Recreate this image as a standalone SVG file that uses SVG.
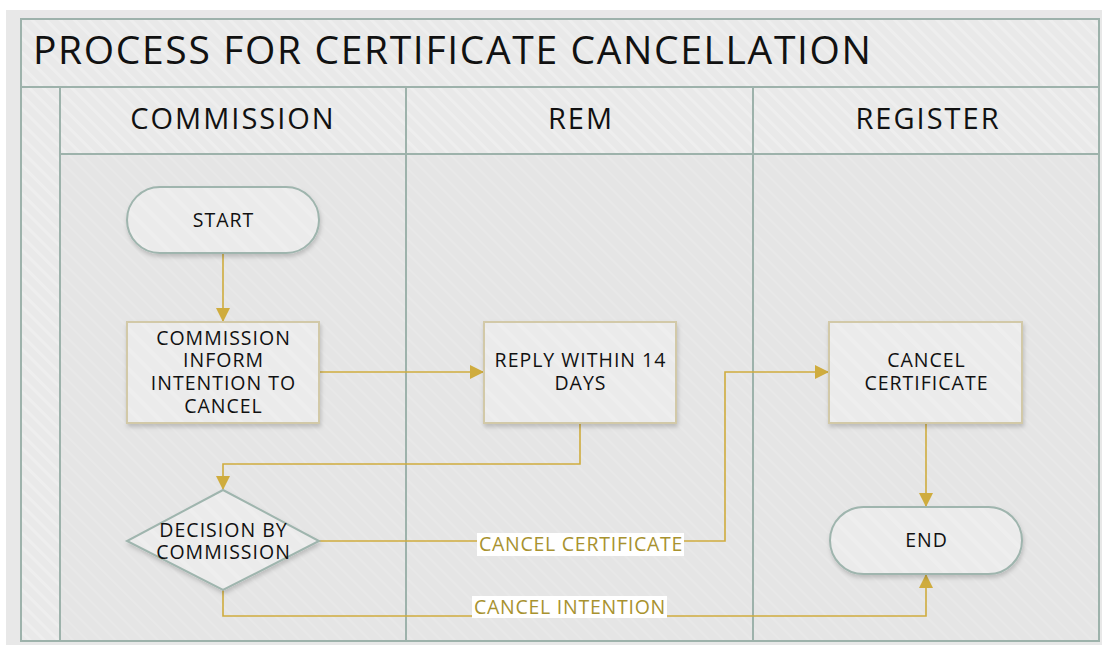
<svg xmlns="http://www.w3.org/2000/svg" width="1102" height="645" viewBox="0 0 1102 645">
<style>
text{font-family:"Open Sans","Noto Sans","Liberation Sans",sans-serif;fill:#111;}
.title{font-size:39px;letter-spacing:1.65px;}
.hdr{font-size:29px;text-anchor:middle;letter-spacing:2px;}
.nt{font-size:19.5px;text-anchor:middle;letter-spacing:1px;}
.lbl{font-size:19.5px;text-anchor:middle;fill:#a8922f;letter-spacing:0.75px;}
.frame{fill:none;stroke:#9db2ab;stroke-width:2;}
.term{fill:url(#hatchN);stroke:#9fb5ae;stroke-width:2;filter:url(#sh);}
.proc{fill:url(#hatchN);stroke:#d2c9a8;stroke-width:2;filter:url(#sh);}
.con{fill:none;stroke:#cfac3e;stroke-width:1.6;}
.lblbg{fill:#ffffff;}
</style>
<defs>
<pattern id="hatchH" width="10" height="10" patternUnits="userSpaceOnUse" patternTransform="rotate(45)">
<rect width="10" height="10" fill="#e9e9e9"/>
<rect width="10" height="3" fill="#eeeeee"/>
</pattern>
<pattern id="hatchL" width="10" height="10" patternUnits="userSpaceOnUse" patternTransform="rotate(45)">
<rect width="10" height="10" fill="#e5e5e5"/>
<rect width="10" height="2" fill="#e8e8e8"/>
</pattern>
<pattern id="hatchN" width="14" height="14" patternUnits="userSpaceOnUse" patternTransform="rotate(45)">
<rect width="14" height="14" fill="#ebebeb"/>
<rect width="14" height="4" fill="#eeeeee"/>
</pattern>
<filter id="sh" x="-10%" y="-10%" width="130%" height="140%">
<feDropShadow dx="1" dy="3" stdDeviation="2" flood-color="#000" flood-opacity="0.18"/>
</filter>
<marker id="arr" markerWidth="14" markerHeight="14" refX="13" refY="7" orient="auto" markerUnits="userSpaceOnUse">
<path d="M0,0 L14,7 L0,14 Z" fill="#cfac3e"/>
</marker>
</defs>

<rect x="0" y="0" width="1102" height="645" fill="#ffffff"/>
<rect x="6" y="10" width="1096" height="635" fill="#e8e8e8"/>

<g id="pool">
<rect x="21" y="19" width="1078" height="622" fill="url(#hatchH)"/>
<rect x="60" y="154" width="1039" height="487" fill="url(#hatchL)"/>
<rect x="21" y="19" width="1078" height="622" class="frame"/>
<line x1="21" y1="87" x2="1099" y2="87" class="frame"/>
<line x1="60" y1="87" x2="60" y2="641" class="frame"/>
<line x1="60" y1="154" x2="1099" y2="154" class="frame"/>
<line x1="406" y1="87" x2="406" y2="641" class="frame"/>
<line x1="753" y1="87" x2="753" y2="641" class="frame"/>
<text class="title" x="33" y="64">PROCESS FOR CERTIFICATE CANCELLATION</text>
</g>
<g id="lane-commission"><text class="hdr" x="233" y="129">COMMISSION</text></g>
<g id="lane-rem"><text class="hdr" x="581" y="129">REM</text></g>
<g id="lane-register"><text class="hdr" x="928" y="129">REGISTER</text></g>

<g id="connectors">
<path class="con" d="M223,253 V321" marker-end="url(#arr)"/>
<path class="con" d="M319,372 H483" marker-end="url(#arr)"/>
<path class="con" d="M580,423 V464 H223 V489" marker-end="url(#arr)"/>
<path class="con" d="M319,541 H725 V372 H828" marker-end="url(#arr)"/>
<path class="con" d="M926,423 V506" marker-end="url(#arr)"/>
<path class="con" d="M223,590 V616 H926 V575" marker-end="url(#arr)"/>
<g id="label-cancel-certificate">
<rect class="lblbg" x="477" y="533" width="207" height="23"/>
<text class="lbl" x="581" y="551">CANCEL CERTIFICATE</text>
</g>
<g id="label-cancel-intention">
<rect class="lblbg" x="472" y="596" width="195" height="22"/>
<text class="lbl" x="570" y="614">CANCEL INTENTION</text>
</g>
</g>

<g id="start">
<rect class="term" x="127" y="187" width="192" height="66" rx="33" ry="33"/>
<text class="nt" x="223.5" y="227">START</text>
</g>
<g id="inform">
<rect class="proc" x="127" y="322" width="192" height="101"/>
<text class="nt" x="223.5" y="345">COMMISSION</text>
<text class="nt" x="223.5" y="367">INFORM</text>
<text class="nt" x="223.5" y="390">INTENTION TO</text>
<text class="nt" x="223.5" y="413">CANCEL</text>
</g>
<g id="reply">
<rect class="proc" x="484" y="322" width="192" height="101"/>
<text class="nt" x="580.5" y="367">REPLY WITHIN 14</text>
<text class="nt" x="580.5" y="390">DAYS</text>
</g>
<g id="cancel-cert">
<rect class="proc" x="829" y="322" width="193" height="101"/>
<text class="nt" x="926.5" y="367">CANCEL</text>
<text class="nt" x="926.5" y="390">CERTIFICATE</text>
</g>
<g id="decision">
<path class="term" d="M223,490 L319,541 L223,590 L127,541 Z"/>
<text class="nt" x="223.5" y="537">DECISION BY</text>
<text class="nt" x="223.5" y="559">COMMISSION</text>
</g>
<g id="end">
<rect class="term" x="830" y="507" width="192" height="67" rx="33.5" ry="33.5"/>
<text class="nt" x="926.5" y="547">END</text>
</g>
</svg>
